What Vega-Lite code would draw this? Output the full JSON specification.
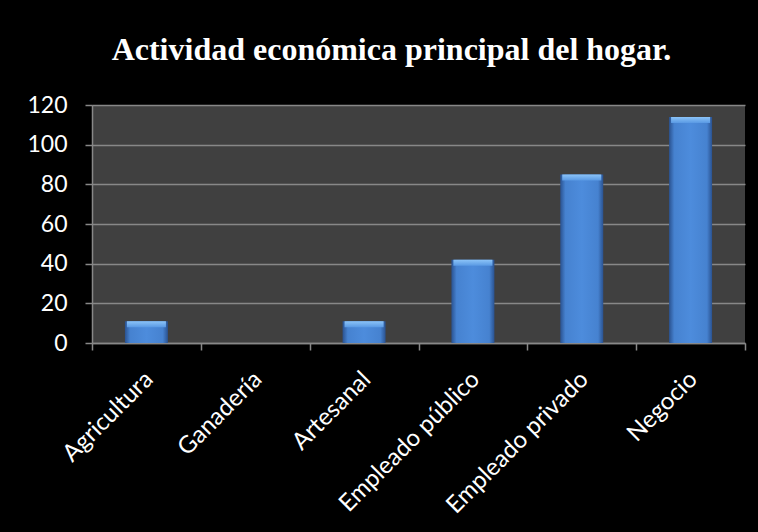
{
  "$schema": "https://vega.github.io/schema/vega-lite/v6.json",
  "autosize": "none",
  "width": 653,
  "height": 238,
  "padding": {"left": 92, "top": 105, "right": 13, "bottom": 189},
  "background": "#000000",
  "title": {
    "text": "Actividad económica principal del hogar.",
    "font": "Liberation Serif",
    "fontSize": 32,
    "fontWeight": "bold",
    "color": "#ffffff",
    "anchor": "middle",
    "baseline": "alphabetic",
    "offset": 2,
    "dx": -27
  },
  "config": {
    "view": {"fill": "#404040", "stroke": null},
    "axis": {
      "labelFont": "Lato",
      "labelFontSize": 21,
      "labelColor": "#ffffff",
      "labelLimit": 400,
      "domainColor": "#888888",
      "tickColor": "#888888",
      "gridColor": "#888888",
      "domainWidth": 1.5,
      "tickWidth": 1.5,
      "gridWidth": 1.5,
      "tickSize": 7,
      "title": null
    }
  },
  "data": {
    "values": [
      {"actividad": "Agricultura", "hogares": 11},
      {"actividad": "Ganadería", "hogares": 0},
      {"actividad": "Artesanal", "hogares": 11},
      {"actividad": "Empleado público", "hogares": 42},
      {"actividad": "Empleado privado", "hogares": 85},
      {"actividad": "Negocio", "hogares": 114}
    ]
  },
  "encoding": {
    "x": {
      "field": "actividad",
      "type": "nominal",
      "sort": null,
      "scale": {"paddingInner": 0, "paddingOuter": 0},
      "axis": {
        "labelAngle": -45,
        "tickBand": "extent",
        "labelPadding": 17,
        "labelOffset": -6,
        "labelFontSize": 24,
        "grid": false
      }
    },
    "y": {
      "field": "hogares",
      "type": "quantitative",
      "scale": {"domain": [0, 120], "nice": false},
      "axis": {
        "values": [0, 20, 40, 60, 80, 100, 120],
        "grid": true,
        "labelPadding": 18,
        "labelFontSize": 23
      }
    }
  },
  "layer": [
    {
      "mark": {
        "type": "bar",
        "width": {"band": 0.395},
        "fill": {
          "gradient": "linear",
          "x1": 0, "x2": 1, "y1": 0, "y2": 0,
          "stops": [
            {"offset": 0, "color": "#2a5290"},
            {"offset": 0.12, "color": "#4682d0"},
            {"offset": 0.5, "color": "#4d8cdc"},
            {"offset": 0.88, "color": "#4682d0"},
            {"offset": 1, "color": "#2a5290"}
          ]
        }
      }
    },
    {
      "transform": [{"filter": "datum.hogares > 0"}],
      "mark": {
        "type": "tick",
        "size": 39,
        "thickness": 6,
        "yOffset": 3,
        "opacity": 1,
        "fill": {
          "gradient": "linear",
          "x1": 0, "x2": 0, "y1": 0, "y2": 1,
          "stops": [
            {"offset": 0, "color": "#8cc4f8"},
            {"offset": 1, "color": "#5a9ae4"}
          ]
        }
      }
    }
  ]
}
